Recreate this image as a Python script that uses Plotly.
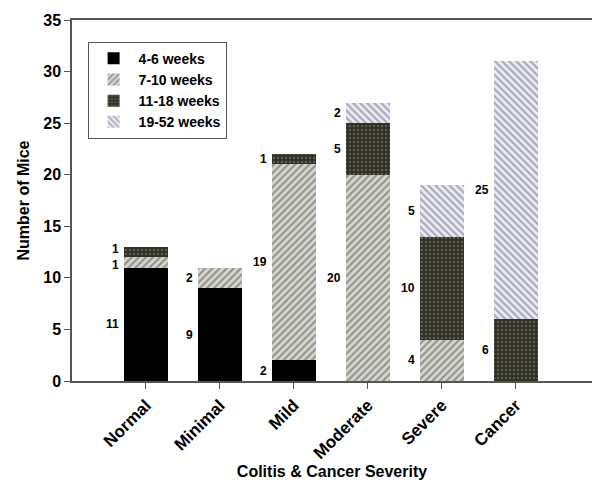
import plotly.graph_objects as go

categories = ["Normal", "Minimal", "Mild", "Moderate", "Severe", "Cancer"]
series_names = ["4-6 weeks", "7-10 weeks", "11-18 weeks", "19-52 weeks"]
wk_4_6 = [11, 9, 2, 0, 0, 0]
wk_7_10 = [1, 2, 19, 20, 4, 0]
wk_11_18 = [1, 0, 1, 5, 10, 6]
wk_19_52 = [0, 0, 0, 2, 5, 25]
y_ticks = [0, 5, 10, 15, 20, 25, 30, 35]

series = [wk_4_6, wk_7_10, wk_11_18, wk_19_52]
styles = [
    dict(color="#000000", marker_pattern=dict(shape="")),
    dict(color="#d0d0c8", marker_pattern=dict(shape="/", fgcolor="#505050", bgcolor="#d8d8d0", size=5, solidity=0.45)),
    dict(color="#35352a", marker_pattern=dict(shape=".", fgcolor="#8e8e78", bgcolor="#2e2e24", size=4, solidity=0.3)),
    dict(color="#e4e4f0", marker_pattern=dict(shape="\\", fgcolor="#66667e", bgcolor="#ececf4", size=5, solidity=0.45)),
]

fig = go.Figure()
for name, vals, st in zip(series_names, series, styles):
    fig.add_trace(go.Bar(
        x=categories, y=vals, name=name, width=0.6,
        marker=dict(color=st["color"], line=dict(width=0), pattern=st["marker_pattern"]),
    ))

# value labels left of each segment; nudge apart adjacent thin segments
base = [0] * len(categories)
for s_idx, vals in enumerate(series):
    for i, v in enumerate(vals):
        if v > 0:
            shift = 0
            prev = series[s_idx - 1][i] if s_idx > 0 else 0
            nxt = series[s_idx + 1][i] if s_idx + 1 < len(series) else 0
            if v <= 1 and 0 < prev <= 1:
                shift = 3
            elif v <= 1 and 0 < nxt <= 1:
                shift = -3
            fig.add_annotation(
                x=categories[i], y=base[i] + v / 2, text=str(v), showarrow=False,
                xanchor="right", yanchor="middle", xshift=-25, yshift=shift,
                font=dict(family="Liberation Sans, Arial", size=12, color="#000000", weight="bold"),
            )
        base[i] += v

fig.update_layout(
    barmode="stack",
    width=600, height=486,
    margin=dict(l=64, r=16, t=12, b=113, autoexpand=False),
    paper_bgcolor="white", plot_bgcolor="white",
    font=dict(family="Liberation Sans, Arial", size=14, color="#000000"),
    legend=dict(
        x=0.03, y=0.94, xanchor="left", yanchor="top", traceorder="normal",
        bordercolor="#555555", borderwidth=1, bgcolor="white",
        font=dict(size=14, weight="bold"), tracegroupgap=2,
        itemwidth=40,
    ),
    xaxis=dict(
        range=[-1.0, 6.03], showline=True, linecolor="#555555", linewidth=1.5, mirror=True,
        ticks="outside", ticklen=6, tickcolor="#555555", tickangle=-45,
        tickfont=dict(size=17, weight="bold"), automargin=False,
        title=dict(text="Colitis & Cancer Severity", font=dict(size=16, weight="bold"), standoff=2),
        showgrid=False,
    ),
    yaxis=dict(
        range=[0, 35], tickvals=y_ticks, showline=True, linecolor="#555555", linewidth=1.5, mirror=True,
        ticks="outside", ticklen=6, tickcolor="#555555",
        tickfont=dict(size=16, weight="bold"), automargin=False,
        title=dict(text="Number of Mice", font=dict(size=16, weight="bold"), standoff=10),
        showgrid=False, zeroline=False,
    ),
)

fig.write_html("out.html")
